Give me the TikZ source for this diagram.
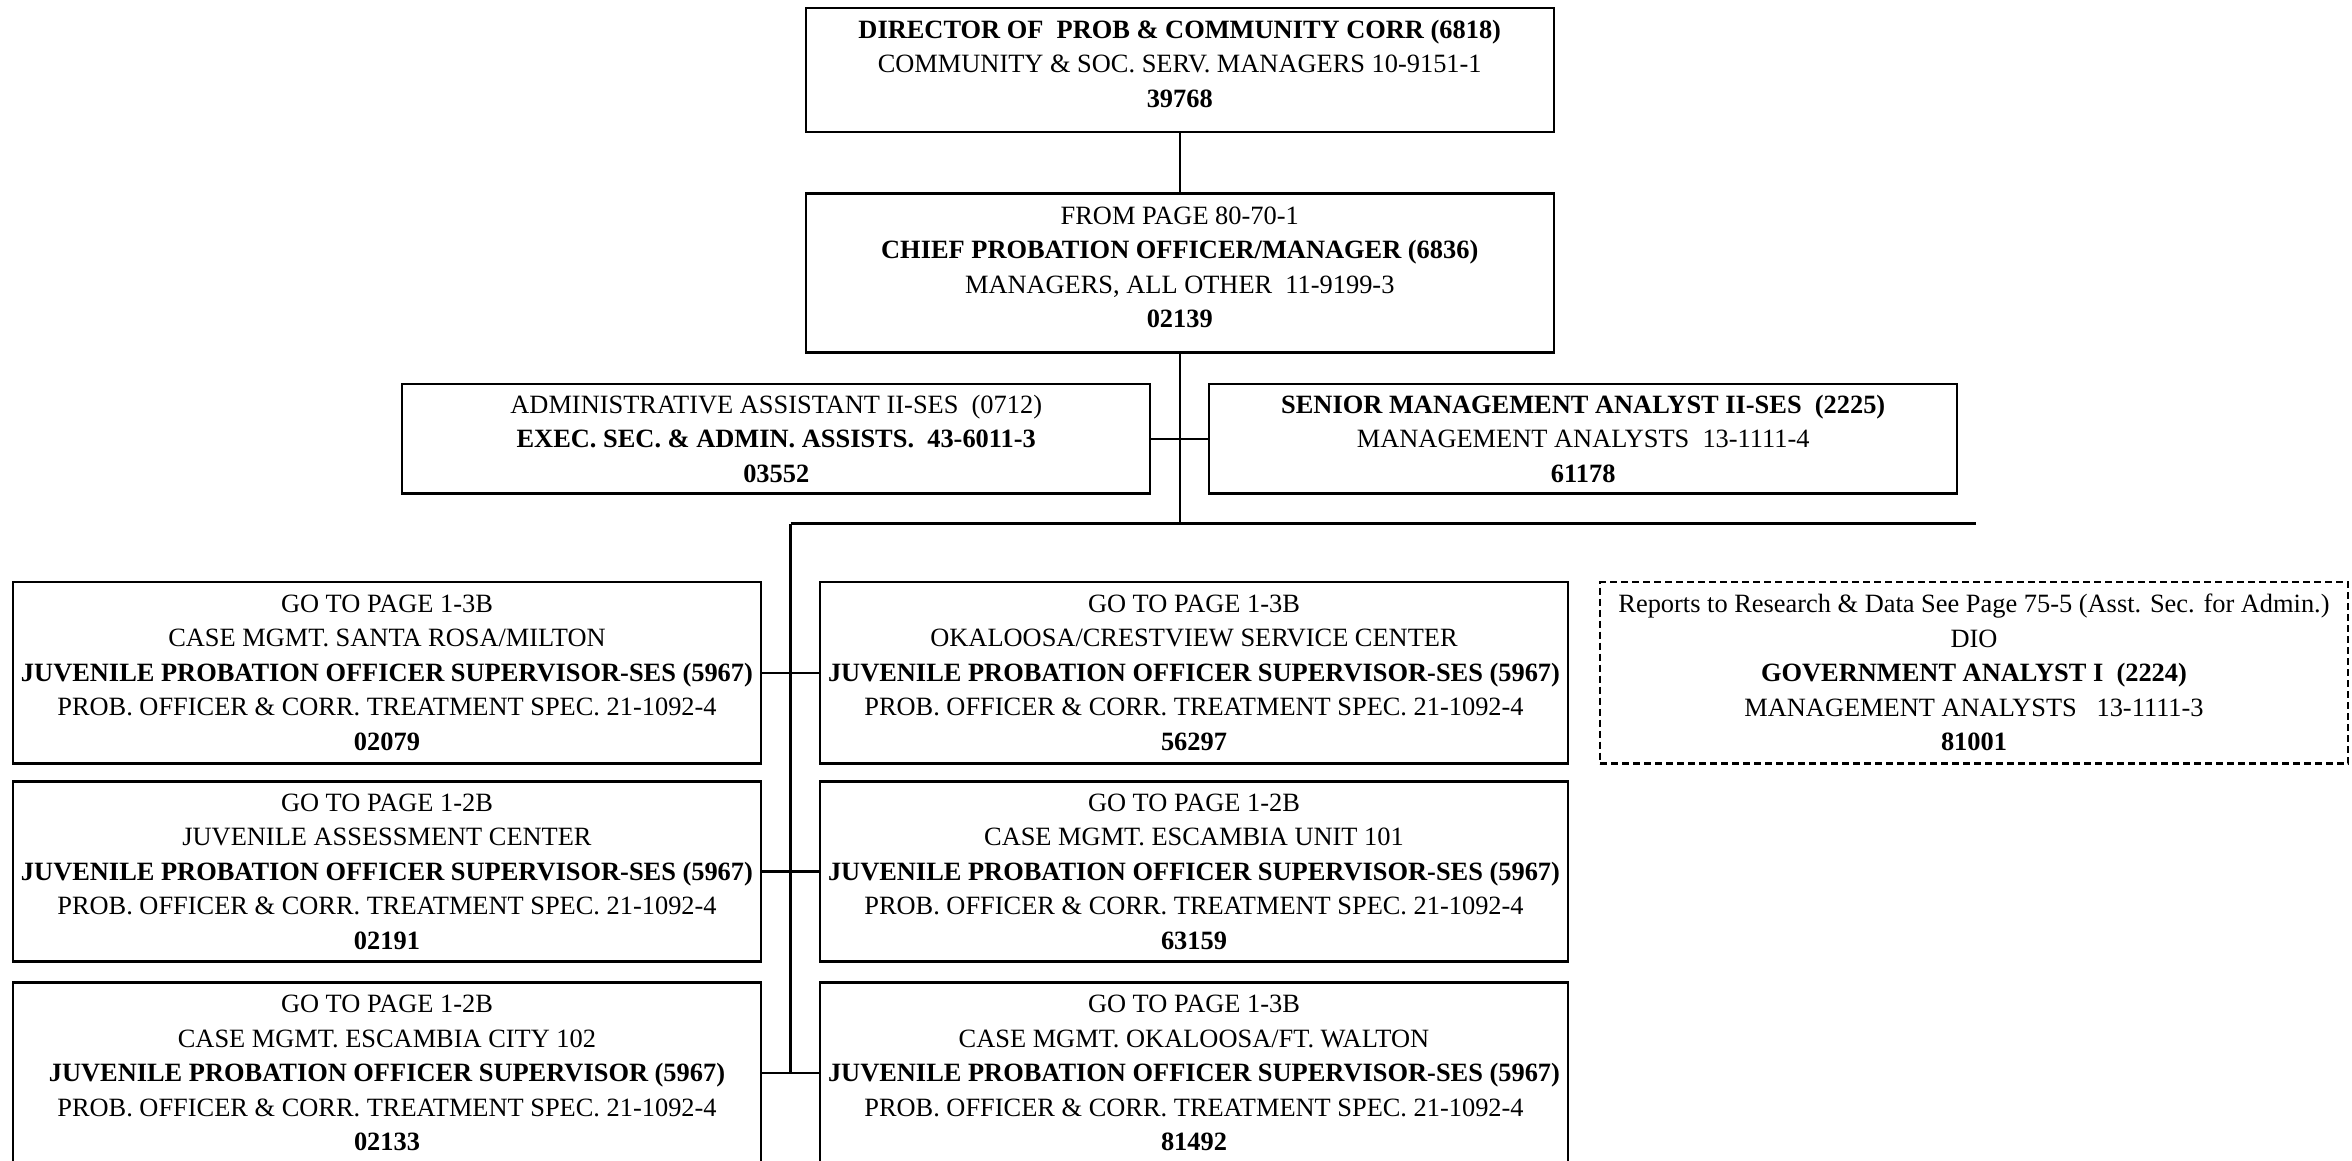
\documentclass[tikz,border=0pt]{standalone}
\usepackage{fontspec}
\setmainfont{Liberation Serif}
% extra depth below the last line lifts a node's text block
\newcommand{\liftstrut}{\rule[-12pt]{0pt}{12pt}}
\begin{document}
\begin{tikzpicture}[x=1pt,y=-1pt,
  orgbox/.style={draw, line width=2.4pt, inner sep=0pt, align=center,
    minimum width=748pt, font=\fontsize{26.4}{34.5}\selectfont},
  dashbox/.style={orgbox, dash pattern=on 7pt off 4pt},
  link/.style={line width=2.4pt}]
\clip (0,0) rectangle (2352,1160);

% top of the chain
\node[orgbox, minimum height=124pt] (dir) at (1179.75,69.75)
  {\textbf{DIRECTOR OF\ \ PROB \& COMMUNITY CORR (6818)}\\
   COMMUNITY \& SOC. SERV. MANAGERS 10-9151-1\\
   \textbf{39768}\liftstrut};
\node[orgbox, minimum height=159pt] (chief) at (1179.75,273)
  {FROM PAGE 80-70-1\\
   \textbf{CHIEF PROBATION OFFICER/MANAGER (6836)}\\
   MANAGERS, ALL OTHER\ \ 11-9199-3\\
   \textbf{02139}\liftstrut};

% staff positions
\node[orgbox, minimum height=109.5pt] (admin) at (776.25,438.75)
  {ADMINISTRATIVE ASSISTANT II-SES\ \ (0712)\\
   \textbf{EXEC. SEC. \& ADMIN. ASSISTS.\ \ 43-6011-3}\\
   \textbf{03552}};
\node[orgbox, minimum height=109.5pt] (senior) at (1583.25,438.75)
  {\textbf{SENIOR MANAGEMENT ANALYST II-SES\ \ (2225)}\\
   MANAGEMENT ANALYSTS\ \ 13-1111-4\\
   \textbf{61178}};

% supervisors, left column
\node[orgbox, minimum height=181.5pt] (l1) at (387,672.75)
  {GO TO PAGE 1-3B\\
   CASE MGMT. SANTA ROSA/MILTON\\
   \textbf{JUVENILE PROBATION OFFICER SUPERVISOR-SES (5967)}\\
   PROB. OFFICER \& CORR. TREATMENT SPEC. 21-1092-4\\
   \textbf{02079}};
\node[orgbox, minimum height=180pt] (l2) at (387,871.5)
  {GO TO PAGE 1-2B\\
   JUVENILE ASSESSMENT CENTER\\
   \textbf{JUVENILE PROBATION OFFICER SUPERVISOR-SES (5967)}\\
   PROB. OFFICER \& CORR. TREATMENT SPEC. 21-1092-4\\
   \textbf{02191}};
\node[orgbox, minimum height=181.5pt] (l3) at (387,1073.25)
  {GO TO PAGE 1-2B\\
   CASE MGMT. ESCAMBIA CITY 102\\
   \textbf{JUVENILE PROBATION OFFICER SUPERVISOR (5967)}\\
   PROB. OFFICER \& CORR. TREATMENT SPEC. 21-1092-4\\
   \textbf{02133}};

% supervisors, middle column
\node[orgbox, minimum height=181.5pt] (m1) at (1194,672.75)
  {GO TO PAGE 1-3B\\
   OKALOOSA/CRESTVIEW SERVICE CENTER\\
   \textbf{JUVENILE PROBATION OFFICER SUPERVISOR-SES (5967)}\\
   PROB. OFFICER \& CORR. TREATMENT SPEC. 21-1092-4\\
   \textbf{56297}};
\node[orgbox, minimum height=180pt] (m2) at (1194,871.5)
  {GO TO PAGE 1-2B\\
   CASE MGMT. ESCAMBIA UNIT 101\\
   \textbf{JUVENILE PROBATION OFFICER SUPERVISOR-SES (5967)}\\
   PROB. OFFICER \& CORR. TREATMENT SPEC. 21-1092-4\\
   \textbf{63159}};
\node[orgbox, minimum height=181.5pt] (m3) at (1194,1073.25)
  {GO TO PAGE 1-3B\\
   CASE MGMT. OKALOOSA/FT. WALTON\\
   \textbf{JUVENILE PROBATION OFFICER SUPERVISOR-SES (5967)}\\
   PROB. OFFICER \& CORR. TREATMENT SPEC. 21-1092-4\\
   \textbf{81492}};

% dotted-line report
\node[dashbox, minimum height=181.5pt] (gov) at (1974,672.75)
  {Reports to Research \& Data See Page 75-5 (Asst. Sec. for Admin.)\\
   DIO\\
   \textbf{GOVERNMENT ANALYST I\ \ (2224)}\\
   MANAGEMENT ANALYSTS\ \ \ 13-1111-3\\
   \textbf{81001}};

% bus coordinates
\coordinate (busmid) at (1179.75,523.5);
\coordinate (busL) at (790.5,523.5);
\coordinate (busR) at (1975.5,523.5);
\coordinate (spineEnd) at (790.5,1073.25);

% connectors
\draw[link] (dir.south) -- (chief.north);
\draw[link] (chief.south) -- (busmid);
\draw[link] (admin.east) -- (senior.west);
\draw[link] (busL) -- (busR);
\draw[link] (busL) -- (spineEnd);
\draw[link] (l1.east) -- (m1.west);
\draw[link] (l2.east) -- (m2.west);
\draw[link] (l3.east) -- (m3.west);
\end{tikzpicture}
\end{document}
